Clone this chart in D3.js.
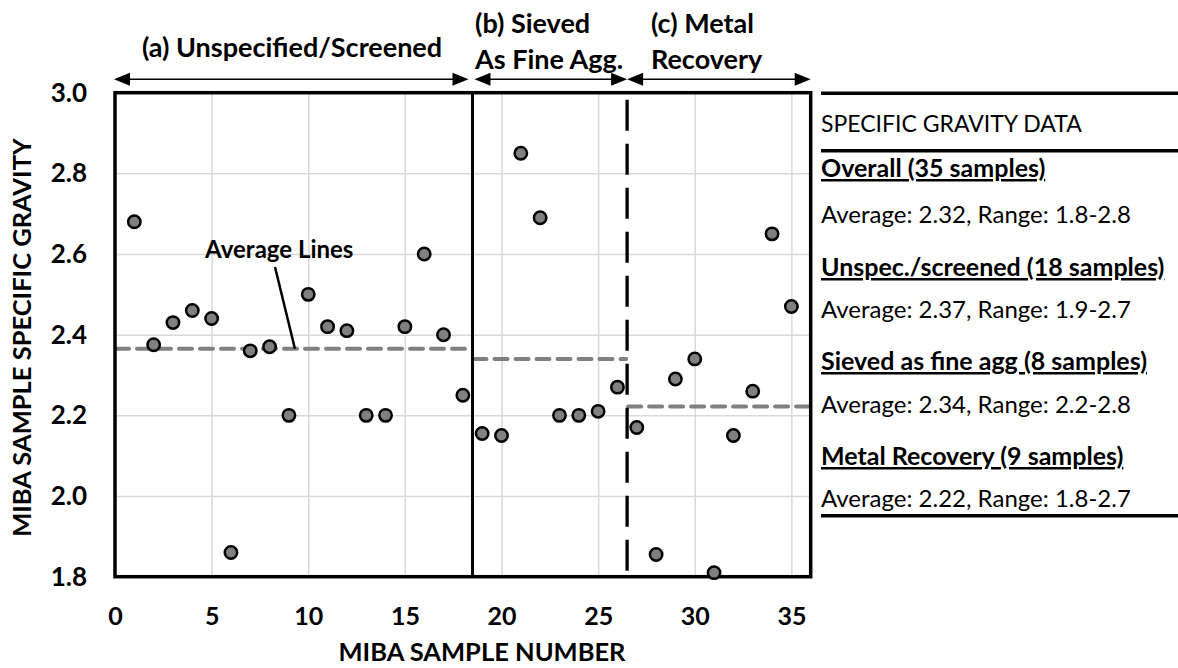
<!DOCTYPE html>
<html><head><meta charset="utf-8">
<script src="https://cdn.jsdelivr.net/npm/d3@7"></script>
<style>
html,body{margin:0;padding:0;background:#fff;}
svg{display:block;font-family:Lato, "Open Sans", sans-serif;}
</style></head>
<body>
<svg id="chart" width="1178" height="668"></svg>
<script>
// ---- data ----
const sampleNumbers = d3.range(1, 36);
const specificGravity = [2.68, 2.375, 2.43, 2.46, 2.44, 1.86, 2.36, 2.37, 2.20, 2.50,
  2.42, 2.41, 2.20, 2.20, 2.42, 2.60, 2.40, 2.25, 2.155, 2.15,
  2.85, 2.69, 2.20, 2.20, 2.21, 2.27, 2.17, 1.855, 2.29, 2.34,
  1.81, 2.15, 2.26, 2.65, 2.47];
const groupNames = ["(a) Unspecified/Screened", "(b) Sieved|As Fine Agg.", "(c) Metal|Recovery"];
const groupBounds = [[0, 18.5], [18.5, 26.5], [26.5, 36]];
const groupAverages = [2.365, 2.34, 2.222];
const xTicks = [0, 5, 10, 15, 20, 25, 30, 35];
const yTicks = [1.8, 2.0, 2.2, 2.4, 2.6, 2.8, 3.0];
const tableRows = [
  {text: "Overall (35 samples)", head: true},
  {text: "Average: 2.32, Range: 1.8-2.8", head: false},
  {text: "Unspec./screened (18 samples)", head: true},
  {text: "Average: 2.37, Range: 1.9-2.7", head: false},
  {text: "Sieved as fine agg (8 samples)", head: true},
  {text: "Average: 2.34, Range: 2.2-2.8", head: false},
  {text: "Metal Recovery (9 samples)", head: true},
  {text: "Average: 2.22, Range: 1.8-2.7", head: false}
];
const tableTitle = "SPECIFIC GRAVITY DATA";

// ---- layout ----
const svg = d3.select("#chart");
const L = 115, R = 810.7, T = 92.7, B = 576.7;
const x = d3.scaleLinear().domain([0, 36]).range([L, R]);
const y = d3.scaleLinear().domain([1.8, 3.0]).range([B, T]);

// grid
svg.append("g").attr("transform", `translate(0,${B})`)
  .call(d3.axisBottom(x).tickValues(xTicks.filter(d => d > 0)).tickSize(-(B - T)).tickFormat(""))
  .call(g => g.select(".domain").remove())
  .call(g => g.selectAll("line").attr("stroke", "#d9d9d9").attr("stroke-width", 1.5));
svg.append("g").attr("transform", `translate(${L},0)`)
  .call(d3.axisLeft(y).tickValues(yTicks.filter(d => d > 1.8 && d < 3.0)).tickSize(-(R - L)).tickFormat(""))
  .call(g => g.select(".domain").remove())
  .call(g => g.selectAll("line").attr("stroke", "#d9d9d9").attr("stroke-width", 1.5));

// tick labels
svg.append("g").attr("transform", `translate(0,${B})`)
  .call(d3.axisBottom(x).tickValues(xTicks).tickSize(0).tickPadding(31).tickFormat(d3.format("d")))
  .call(g => g.select(".domain").remove())
  .call(g => g.selectAll("text").attr("font-size", 25).attr("font-weight", "bold").attr("fill", "#000").attr("font-family", "Lato"));
svg.append("g").attr("transform", `translate(${L},0)`)
  .call(d3.axisLeft(y).tickValues(yTicks).tickSize(0).tickPadding(28).tickFormat(d3.format(".1f")))
  .call(g => g.select(".domain").remove())
  .call(g => g.selectAll("text").attr("font-size", 26).attr("font-weight", "bold").attr("fill", "#000").attr("font-family", "Lato"));

// axis titles
svg.append("text").attr("x", 482).attr("y", 661).attr("text-anchor", "middle")
  .attr("font-size", 25.5).attr("font-weight", "bold").text("MIBA SAMPLE NUMBER");
svg.append("text").attr("transform", `translate(31,${(T + B) / 2 + 3}) rotate(-90)`).attr("text-anchor", "middle")
  .attr("font-size", 25.5).attr("font-weight", "bold").text("MIBA SAMPLE SPECIFIC GRAVITY");

// average lines
svg.append("g").selectAll("line").data(groupAverages).join("line")
  .attr("x1", (d, i) => x(groupBounds[i][0]) + 1).attr("x2", (d, i) => x(groupBounds[i][1]) - 1)
  .attr("y1", d => y(d)).attr("y2", d => y(d))
  .attr("stroke", "#808080").attr("stroke-width", 4).attr("stroke-dasharray", "13,8").attr("stroke-linecap", "round");

// group dividers
svg.append("line").attr("x1", x(groupBounds[0][1])).attr("x2", x(groupBounds[0][1]))
  .attr("y1", T).attr("y2", B).attr("stroke", "#000").attr("stroke-width", 3);
svg.append("line").attr("x1", x(groupBounds[1][1])).attr("x2", x(groupBounds[1][1]))
  .attr("y1", T).attr("y2", B).attr("stroke", "#000").attr("stroke-width", 3.3)
  .attr("stroke-dasharray", "31,13").attr("stroke-dashoffset", 37);

// frame
svg.append("rect").attr("x", L).attr("y", T).attr("width", R - L).attr("height", B - T)
  .attr("fill", "none").attr("stroke", "#000").attr("stroke-width", 3.5);

// pointer for average lines
svg.append("line").attr("x1", x(8.28)).attr("y1", y(2.568)).attr("x2", x(9.31)).attr("y2", y(2.365))
  .attr("stroke", "#000").attr("stroke-width", 2.5);
svg.append("text").attr("x", x(8.5)).attr("y", 258).attr("text-anchor", "middle")
  .attr("font-size", 24).attr("font-weight", "bold").text("Average Lines");

// points
svg.append("g").selectAll("circle").data(specificGravity).join("circle")
  .attr("cx", (d, i) => x(sampleNumbers[i])).attr("cy", d => y(d)).attr("r", 6.2)
  .attr("fill", "#808080").attr("stroke", "#000").attr("stroke-width", 2.5);

// group arrows
const ay = 79.3, ah = 16, aw = 6.5;
const arrows = svg.append("g");
groupBounds.forEach((b, i) => {
  const x0 = x(b[0]) + (i === 1 ? 2 : 0) - (i === 0 ? 1 : 0);
  const x1 = x(b[1]) - (i === 0 ? 4 : 0);
  arrows.append("line").attr("x1", x0 + 4).attr("x2", x1 - 4).attr("y1", ay).attr("y2", ay)
    .attr("stroke", "#000").attr("stroke-width", 1.5);
  arrows.append("path").attr("d", `M${x0},${ay}L${x0 + ah},${ay - aw}L${x0 + ah},${ay + aw}Z`).attr("fill", "#000");
  arrows.append("path").attr("d", `M${x1},${ay}L${x1 - ah},${ay - aw}L${x1 - ah},${ay + aw}Z`).attr("fill", "#000");
});

// group labels
svg.append("text").attr("x", 292).attr("y", 57).attr("text-anchor", "middle")
  .attr("font-size", 27).attr("font-weight", "bold").text(groupNames[0]);
[[1, 475], [2, 651]].forEach(([gi, lx]) => {
  const parts = groupNames[gi].split("|");
  const t = svg.append("text").attr("font-size", 27).attr("font-weight", "bold");
  t.append("tspan").attr("x", lx).attr("y", 33).text(parts[0]);
  t.append("tspan").attr("x", lx).attr("y", 69).text(parts[1]);
});

// table
const tx = 821;
[93.3, 150.7, 515.7].forEach(ly => svg.append("line").attr("x1", tx).attr("x2", 1178)
  .attr("y1", ly).attr("y2", ly).attr("stroke", "#000").attr("stroke-width", 3.5));
svg.append("text").attr("x", tx).attr("y", 132).attr("font-size", 23).text(tableTitle);
const rowY = [177, 223, 276, 318, 370, 413, 465, 507];
tableRows.forEach((r, i) => {
  svg.append("text").attr("x", tx).attr("y", rowY[i]).attr("font-size", r.head ? 25 : 24)
    .attr("font-weight", r.head ? "bold" : "normal")
    .attr("text-decoration", r.head ? "underline" : null).text(r.text);
});
</script>
</body></html>
